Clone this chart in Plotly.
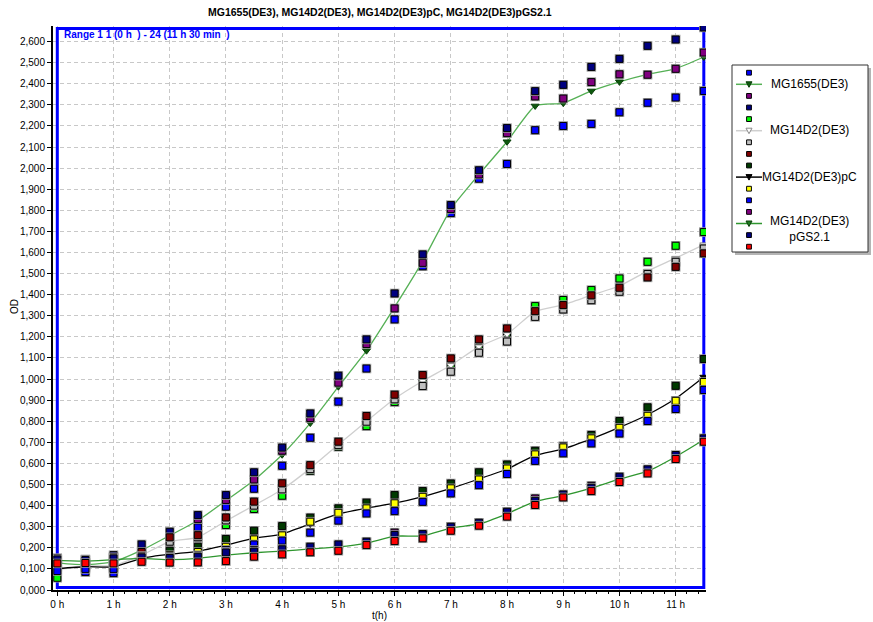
import numpy as np
import plotly.graph_objects as go

# Sampling times (h)
hours = [0, 0.5, 1, 1.5, 2, 2.5, 3, 3.5, 4, 4.5, 5, 5.5,
         6, 6.5, 7, 7.5, 8, 8.5, 9, 9.5, 10, 10.5, 11, 11.5]

# MG1655(DE3) replicates (OD)
mg1655_a = [0.087, 0.085, 0.080, 0.165, 0.245, 0.297, 0.395, 0.480, 0.589, 0.722, 0.893, 1.050,
            1.283, 1.535, 1.787, 1.950, 2.020, 2.180, 2.200, 2.210, 2.265, 2.310, 2.335, 2.366]
mg1655_b = [0.150, 0.130, 0.155, 0.185, 0.253, 0.336, 0.427, 0.524, 0.660, 0.815, 0.983, 1.166,
            1.335, 1.551, 1.806, 1.970, 2.166, 2.340, 2.330, 2.408, 2.445, 2.443, 2.471, 2.548]
mg1655_c = [0.145, 0.145, 0.165, 0.216, 0.276, 0.355, 0.450, 0.558, 0.675, 0.837, 1.016, 1.188,
            1.406, 1.591, 1.825, 1.990, 2.190, 2.365, 2.395, 2.480, 2.518, 2.580, 2.610, 2.667]

# MG14D2(DE3) replicates (OD)
mg14d2_a = [0.058, 0.105, 0.103, 0.150, 0.210, 0.240, 0.308, 0.384, 0.447, 0.565, 0.679, 0.777,
            0.891, 0.987, 1.063, 1.148, 1.220, 1.346, 1.375, 1.422, 1.477, 1.556, 1.632, 1.697]
mg14d2_b = [0.100, 0.110, 0.115, 0.165, 0.229, 0.250, 0.330, 0.400, 0.477, 0.573, 0.687, 0.798,
            0.904, 0.967, 1.035, 1.125, 1.178, 1.295, 1.330, 1.374, 1.414, 1.498, 1.556, 1.619]
mg14d2_c = [0.130, 0.125, 0.130, 0.180, 0.250, 0.260, 0.344, 0.419, 0.506, 0.592, 0.703, 0.825,
            0.926, 1.019, 1.098, 1.188, 1.240, 1.322, 1.351, 1.397, 1.433, 1.482, 1.532, 1.596]

# MG14D2(DE3)pC replicates (OD)
mg14d2_pc_a = [0.110, 0.120, 0.120, 0.160, 0.186, 0.205, 0.242, 0.281, 0.303, 0.343, 0.387, 0.414,
               0.450, 0.469, 0.505, 0.558, 0.595, 0.660, 0.682, 0.735, 0.801, 0.866, 0.968, 1.095]
mg14d2_pc_b = [0.106, 0.111, 0.110, 0.150, 0.165, 0.180, 0.205, 0.240, 0.259, 0.324, 0.366, 0.387,
               0.411, 0.442, 0.482, 0.524, 0.576, 0.643, 0.676, 0.719, 0.769, 0.826, 0.897, 0.986]
mg14d2_pc_c = [0.090, 0.100, 0.100, 0.140, 0.158, 0.165, 0.190, 0.216, 0.234, 0.272, 0.329, 0.363,
               0.374, 0.418, 0.458, 0.497, 0.550, 0.612, 0.648, 0.695, 0.742, 0.801, 0.858, 0.948]

# MG14D2(DE3)pGS2.1 replicates (OD)
mg14d2_pgs_a = [0.150, 0.140, 0.155, 0.160, 0.150, 0.160, 0.180, 0.190, 0.190, 0.200, 0.210, 0.225,
                0.272, 0.260, 0.300, 0.315, 0.365, 0.434, 0.450, 0.494, 0.530, 0.565, 0.635, 0.715]
mg14d2_pgs_b = [0.145, 0.142, 0.150, 0.155, 0.152, 0.158, 0.178, 0.182, 0.193, 0.205, 0.216, 0.229,
                0.261, 0.265, 0.300, 0.319, 0.371, 0.423, 0.453, 0.485, 0.537, 0.572, 0.640, 0.719]
mg14d2_pgs_c = [0.126, 0.128, 0.126, 0.134, 0.130, 0.131, 0.137, 0.158, 0.169, 0.179, 0.186, 0.213,
                0.232, 0.245, 0.281, 0.305, 0.348, 0.403, 0.439, 0.469, 0.512, 0.553, 0.621, 0.703]

hour_ticks = list(range(12))
hour_labels = ["{} h".format(h) for h in hour_ticks]

groups = [
    dict(name="MG1655(DE3)", label="MG1655(DE3)",
         reps=[("#0000FF", mg1655_a), ("#800080", mg1655_b), ("#000080", mg1655_c)],
         line="#55B055", tri="#0E5A0E", tri_edge="#0A400A"),
    dict(name="MG14D2(DE3)", label="MG14D2(DE3)",
         reps=[("#00FF00", mg14d2_a), ("#C0C0C0", mg14d2_b), ("#800000", mg14d2_c)],
         line="#CFCFCF", tri="#FFFFFF", tri_edge="#8A8A8A"),
    dict(name="MG14D2(DE3)pC", label="MG14D2(DE3)pC",
         reps=[("#003A00", mg14d2_pc_a), ("#FFFF00", mg14d2_pc_b), ("#0000FF", mg14d2_pc_c)],
         line="#000000", tri="#000000", tri_edge="#000000"),
    dict(name="MG14D2(DE3)pGS2.1", label="MG14D2(DE3)<br>pGS2.1",
         reps=[("#800080", mg14d2_pgs_a), ("#000080", mg14d2_pgs_b), ("#FF0000", mg14d2_pgs_c)],
         line="#2F962F", tri="#1F7A1F", tri_edge="#0A400A"),
]

fig = go.Figure()


def add_replicate(color, values):
    # grey halo under each square, then the coloured square with a black edge
    fig.add_trace(go.Scatter(x=hours, y=values, mode="markers", hoverinfo="skip",
                             marker=dict(symbol="square", size=9.5, color="#9A9A9A")))
    fig.add_trace(go.Scatter(x=hours, y=values, mode="markers",
                             marker=dict(symbol="square", size=7, color=color,
                                         line=dict(color="#000000", width=1))))


def add_mean(g):
    mean = np.mean([v for _, v in g["reps"]], axis=0)
    fig.add_trace(go.Scatter(x=hours, y=mean, mode="lines+markers", name=g["name"],
                             line=dict(color=g["line"], width=1.3, shape="spline", smoothing=0.5),
                             marker=dict(symbol="triangle-down", size=7, color=g["tri"],
                                         line=dict(color=g["tri_edge"], width=1))))


for g in groups:
    add_replicate(*g["reps"][0])
    add_mean(g)
    add_replicate(*g["reps"][1])
    add_replicate(*g["reps"][2])

# plot-area geometry in pixels
PL, PR, PT, PB = 53, 706, 26, 590
W, H = 873, 622


def fx(px):
    return (px - PL) / (PR - PL)


def fy(py):
    return (PB - py) / (PB - PT)


shapes = []
annotations = []

# blue selection frame around the measurement range
shapes.append(dict(type="rect", xref="x", yref="y", x0=0, x1=11.5, y0=0.012, y1=2.662,
                   line=dict(color="#0000FF", width=3), layer="between"))

# legend box with drop shadow
LX0, LX1, LY0, LY1 = 732, 868, 65, 252
shapes.append(dict(type="rect", xref="paper", yref="paper",
                   x0=fx(LX0 + 3), x1=fx(LX1 + 3), y0=fy(LY1 + 3), y1=fy(LY0 + 3),
                   line=dict(width=0), fillcolor="#B4B4B4", layer="above"))
shapes.append(dict(type="rect", xref="paper", yref="paper",
                   x0=fx(LX0), x1=fx(LX1), y0=fy(LY1), y1=fy(LY0),
                   line=dict(color="#333333", width=1), fillcolor="#FFFFFF", layer="above"))

row_y0, row_step = 72.7, 11.6
mark_x = 749
text_x = 809
row = 0
for g in groups:
    entries = [("sq", g["reps"][0][0]), ("line", None),
               ("sq", g["reps"][1][0]), ("sq", g["reps"][2][0])]
    for kind, col in entries:
        cy = row_y0 + row * row_step
        if kind == "sq":
            s = 2.4
            shapes.append(dict(type="rect", xref="paper", yref="paper",
                               x0=fx(mark_x - s), x1=fx(mark_x + s),
                               y0=fy(cy + s), y1=fy(cy - s),
                               line=dict(color="#000000", width=1), fillcolor=col, layer="above"))
        else:
            shapes.append(dict(type="line", xref="paper", yref="paper",
                               x0=fx(736), x1=fx(762), y0=fy(cy), y1=fy(cy),
                               line=dict(color=g["line"], width=1.5), layer="above"))
            path = "M {} {} L {} {} L {} {} Z".format(
                fx(mark_x - 3), fy(cy - 2.5), fx(mark_x + 3), fy(cy - 2.5), fx(mark_x), fy(cy + 3))
            shapes.append(dict(type="path", xref="paper", yref="paper", path=path,
                               line=dict(color=g["tri_edge"], width=1), fillcolor=g["tri"],
                               layer="above"))
            # a wrapped label hangs below its line entry
            ty = cy - 0.5 if "<br>" not in g["label"] else cy + 5.3
            annotations.append(dict(text=g["label"], x=fx(text_x), y=fy(ty),
                                    xref="paper", yref="paper", showarrow=False,
                                    xanchor="center", yanchor="middle", align="center",
                                    font=dict(size=12, color="#000000")))
        row += 1

annotations.append(dict(text="<b>MG1655(DE3), MG14D2(DE3), MG14D2(DE3)pC, MG14D2(DE3)pGS2.1</b>",
                        x=fx(380), y=fy(12), xref="paper", yref="paper", showarrow=False,
                        xanchor="center", yanchor="middle", font=dict(size=10.5, color="#000000")))
annotations.append(dict(text="<b>Range 1 1 (0 h\u00a0\u00a0) - 24 (11 h 30 min\u00a0\u00a0)</b>",
                        x=fx(62), y=fy(34), xref="paper", yref="paper", showarrow=False,
                        xanchor="left", yanchor="middle", font=dict(size=10, color="#0000FF")))
annotations.append(dict(text="t(h)", x=fx(380), y=fy(615), xref="paper", yref="paper",
                        showarrow=False, xanchor="center", yanchor="middle",
                        font=dict(size=10, color="#000000")))
annotations.append(dict(text="OD", x=fx(14), y=fy(307), xref="paper", yref="paper",
                        showarrow=False, xanchor="center", yanchor="middle", textangle=-90,
                        font=dict(size=10, color="#000000")))

grid = dict(showgrid=True, gridcolor="#C8C8C8", gridwidth=1, griddash="4px,3px")

fig.update_layout(
    width=W, height=H,
    margin=dict(l=PL, r=W - PR, t=PT, b=H - PB, pad=0),
    paper_bgcolor="#FFFFFF", plot_bgcolor="#FFFFFF",
    showlegend=False,
    separators=",.",
    font=dict(family="Liberation Sans, Arial, sans-serif", size=10, color="#000000"),
    shapes=shapes, annotations=annotations,
    xaxis=dict(range=[-0.0765, 11.539], tickmode="array", tickvals=hour_ticks,
               ticktext=hour_labels,
               ticks="outside", ticklen=4, tickcolor="#000000",
               showline=True, linecolor="#000000", linewidth=2, zeroline=False,
               minor=dict(dtick=0.2, tick0=0, ticks="outside", ticklen=2, tickcolor="#000000",
                          showgrid=False),
               **grid),
    yaxis=dict(range=[0, 2.674], tick0=0, dtick=0.1, tickformat=".3f",
               ticks="outside", ticklen=4, tickcolor="#000000",
               showline=True, linecolor="#000000", linewidth=2, zeroline=False,
               **grid),
)

fig.write_html("out.html")
